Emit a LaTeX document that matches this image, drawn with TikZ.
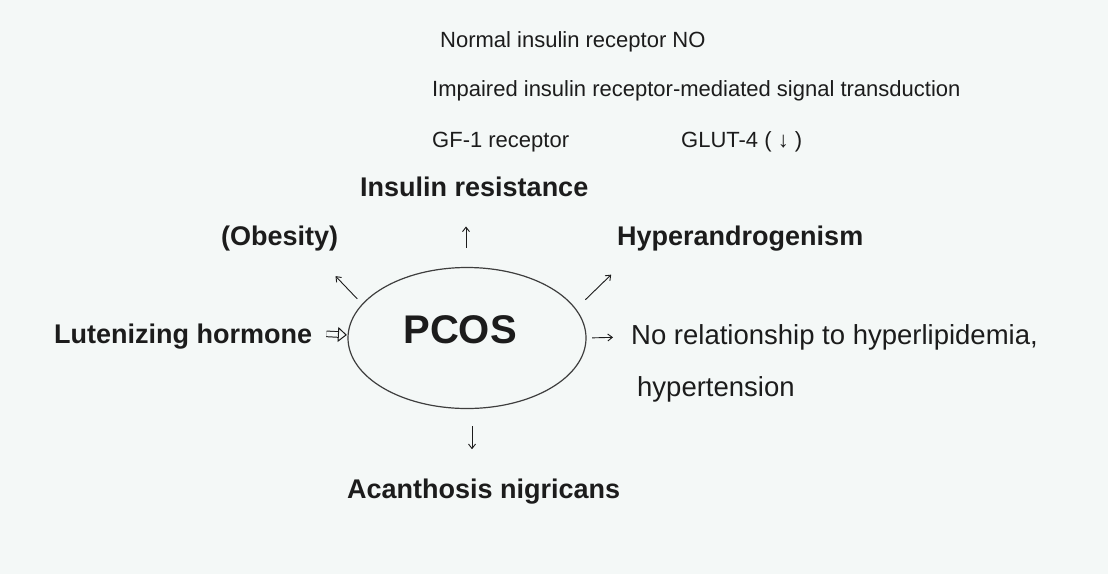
\documentclass[tikz,border=0pt]{standalone}
\usepackage{fontspec}
\setmainfont{Liberation Sans}
\usetikzlibrary{shapes.geometric,arrows.meta,positioning}
\definecolor{bgcol}{HTML}{F4F8F7}
\definecolor{ink}{HTML}{1C1C1C}
\begin{document}
\begin{tikzpicture}[x=1pt, y=-1pt,
  main/.style = {draw=ink!85, ellipse, line width=1.2pt, minimum width=238pt, minimum height=141pt, inner sep=0pt},
  lab/.style = {text=ink, anchor=base west, inner sep=0pt, font=\fontsize{27}{32}\selectfont\bfseries},
  txt/.style = {text=ink, anchor=base west, inner sep=0pt, font=\fontsize{27.5}{33}\selectfont},
  note/.style = {text=ink, anchor=base west, inner sep=0pt, font=\fontsize{22}{26}\selectfont},
  arr/.style = {draw=ink, line width=0.9pt, -{Straight Barb[length=4.5pt, width=7pt]}},
  hollow/.style = {draw=ink, double=bgcol, double distance=4.6pt, line width=1pt, -{Triangle[open, length=9pt, width=15pt, line width=1pt]}}]
\fill[bgcol] (0,0) rectangle (1108,574);
\node[main, label={[text=ink, font=\fontsize{40}{46}\selectfont\bfseries, xshift=-7pt, yshift=8pt]center:PCOS}] (pcos) at (467,338) {};
\node[note] (nrm) at (440,47) {Normal insulin receptor NO};
\node[note] (imp) at (432,96) {Impaired insulin receptor-mediated signal transduction};
\node[note] (igf) at (432,147) {GF-1 receptor};
\node[note] (glut) at (681,147) {GLUT-4 ( ↓ )};
\node[lab] (ir) at (360,196) {Insulin resistance};
\node[lab] (ob) at (221,245) {(Obesity)};
\node[lab] (hy) at (617,245) {Hyperandrogenism};
\node[lab] (lh) at (54,343) {Lutenizing hormone};
\node[lab] (an) at (347,498) {Acanthosis nigricans};
\node[txt] (nr) at (631,344) {No relationship to hyperlipidemia,};
\node[txt] (ht) at (637,396) {hypertension};
\draw[arr, shorten <=19pt, shorten >=30pt] ([xshift=-1pt]pcos.north) -- ([xshift=-1pt]pcos.north |- ir.south);
\draw[arr, shorten <=17pt, shorten >=29pt] ([xshift=5pt]pcos.south) -- ([xshift=5pt]pcos.south |- an.north);
\draw[arr, shorten <=7pt, shorten >=35pt] (pcos.162) -- (ob.-22);
\draw[arr, shorten <=13pt, shorten >=34pt] (pcos.15) -- (hy.187);
\draw[arr, shorten <=5.5pt, shorten >=18pt] (pcos.east) -- (nr.west);
\draw[hollow, shorten <=14pt, shorten >=0.5pt] ([yshift=3pt]lh.east) -- ([yshift=3pt]pcos.west);
\end{tikzpicture}
\end{document}
